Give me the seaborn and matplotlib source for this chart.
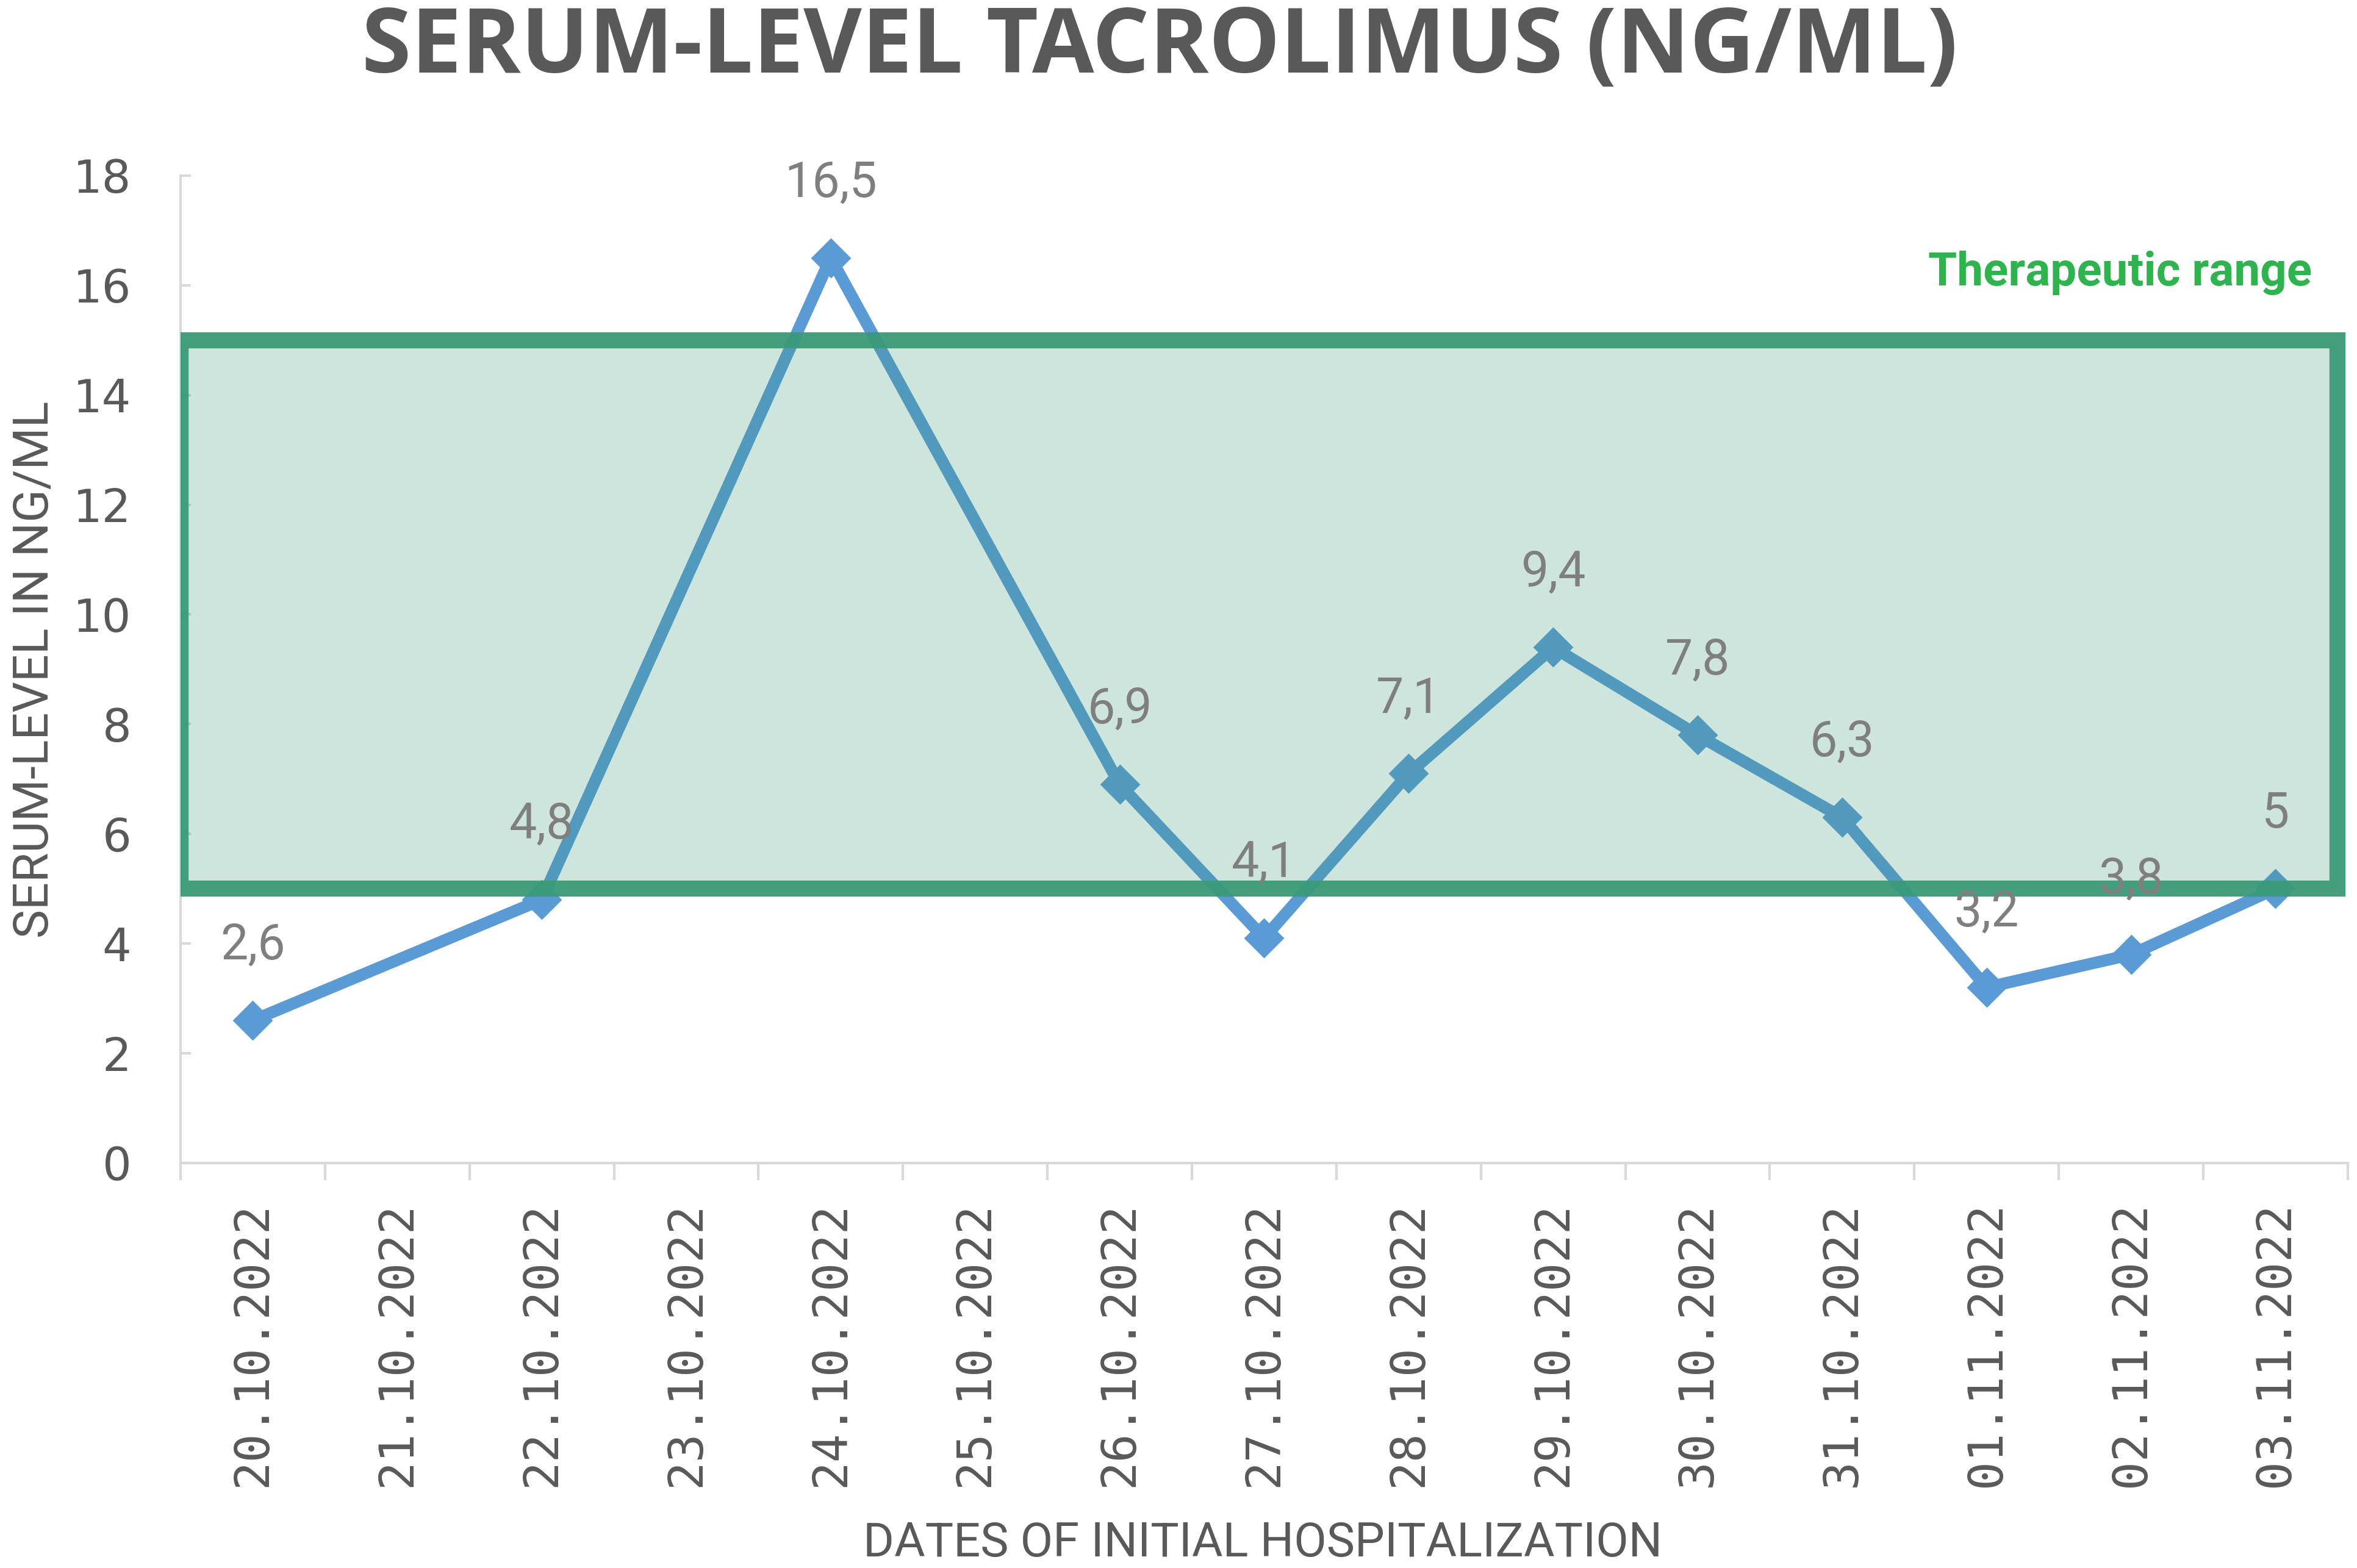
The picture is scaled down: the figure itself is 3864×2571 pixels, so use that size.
import numpy as np
import pandas as pd
import matplotlib
matplotlib.use("Agg")
import matplotlib.pyplot as plt
import seaborn as sns
from matplotlib.patches import Rectangle

# data
dates = ["20.10.2022", "21.10.2022", "22.10.2022", "23.10.2022", "24.10.2022",
         "25.10.2022", "26.10.2022", "27.10.2022", "28.10.2022", "29.10.2022",
         "30.10.2022", "31.10.2022", "01.11.2022", "02.11.2022", "03.11.2022"]
levels = [2.6, np.nan, 4.8, np.nan, 16.5, np.nan, 6.9, 4.1, 7.1, 9.4,
          7.8, 6.3, 3.2, 3.8, 5.0]
therapeutic_range = (5, 15)
y_ticks = [0, 2, 4, 6, 8, 10, 12, 14, 16, 18]

sns.set_theme(style="white")
plt.rcParams["font.family"] = ["DejaVu Sans"]

df = pd.DataFrame({"date": dates, "level": levels})
df["pos"] = np.arange(len(dates))
pts = df.dropna()

fig = plt.figure(figsize=(38.64, 25.71), dpi=100)
ax = fig.add_axes([0.0766, 0.2583, 0.9195, 0.6297])

blue = "#5b9bd5"
green = "#3a9a78"
gray = "#595959"
narrow = ["Roboto", "DejaVu Sans"]

sns.lineplot(data=pts, x="pos", y="level", ax=ax, color=blue, linewidth=14,
             marker="D", markersize=32, markeredgecolor=blue,
             markeredgewidth=2, zorder=3)

for _, r in pts.iterrows():
    txt = f"{r['level']:g}".replace(".", ",")
    ax.annotate(txt, (r["pos"], r["level"]), xytext=(0, 88),
                textcoords="offset points", ha="center", va="center",
                fontsize=58, color="#7f7f7f", family=narrow, zorder=5)

lo, hi = therapeutic_range
ax.add_patch(Rectangle((-0.5, lo), 14.93, hi - lo, facecolor=green,
                       alpha=0.25, edgecolor="none", zorder=4))
ax.add_patch(Rectangle((-0.5, lo), 14.93, hi - lo, facecolor="none",
                       edgecolor=green, alpha=0.95, linewidth=19, zorder=4))
ax.text(14.25, 16.23, "Therapeutic range", ha="right", va="center",
        fontsize=55, fontweight="bold", color="#2fb34f", family=narrow)

ax.set_xlim(-0.5, 14.5)
ax.set_ylim(0, 18)
ax.set_yticks(y_ticks)
ax.set_xticks(df["pos"])
ax.set_xticklabels(df["date"], rotation=90, family="DejaVu Sans Mono",
                   fontsize=56, color=gray)
ax.set_xticks(np.arange(-0.5, 15, 1), minor=True)
ax.tick_params(axis="x", which="major", length=0, pad=46)
ax.tick_params(axis="x", which="minor", bottom=True, length=20, width=3,
               color="#d9d9d9")
ax.tick_params(axis="y", left=True, direction="in", length=12, width=3,
               color="#d9d9d9", labelsize=54, labelcolor=gray, pad=58)

for s in ["top", "right"]:
    ax.spines[s].set_visible(False)
for s in ["left", "bottom"]:
    ax.spines[s].set_color("#d9d9d9")
    ax.spines[s].set_linewidth(3)

ax.set_ylabel("SERUM-LEVEL IN NG/ML", fontsize=57, color=gray, family=narrow)
ax.yaxis.set_label_coords(-0.0565, 0.5)
ax.set_xlabel("DATES OF INITIAL HOSPITALIZATION", fontsize=56, color=gray,
              family=narrow)
ax.xaxis.set_label_coords(0.4993, -0.362)

fig.text(0.492, 0.9685, "SERUM-LEVEL TACROLIMUS (NG/ML)", ha="center",
         va="center", fontsize=106, fontweight="bold", color=gray,
         family=["Open Sans", "DejaVu Sans"])

fig.savefig("out.png", dpi=100, facecolor="white")
